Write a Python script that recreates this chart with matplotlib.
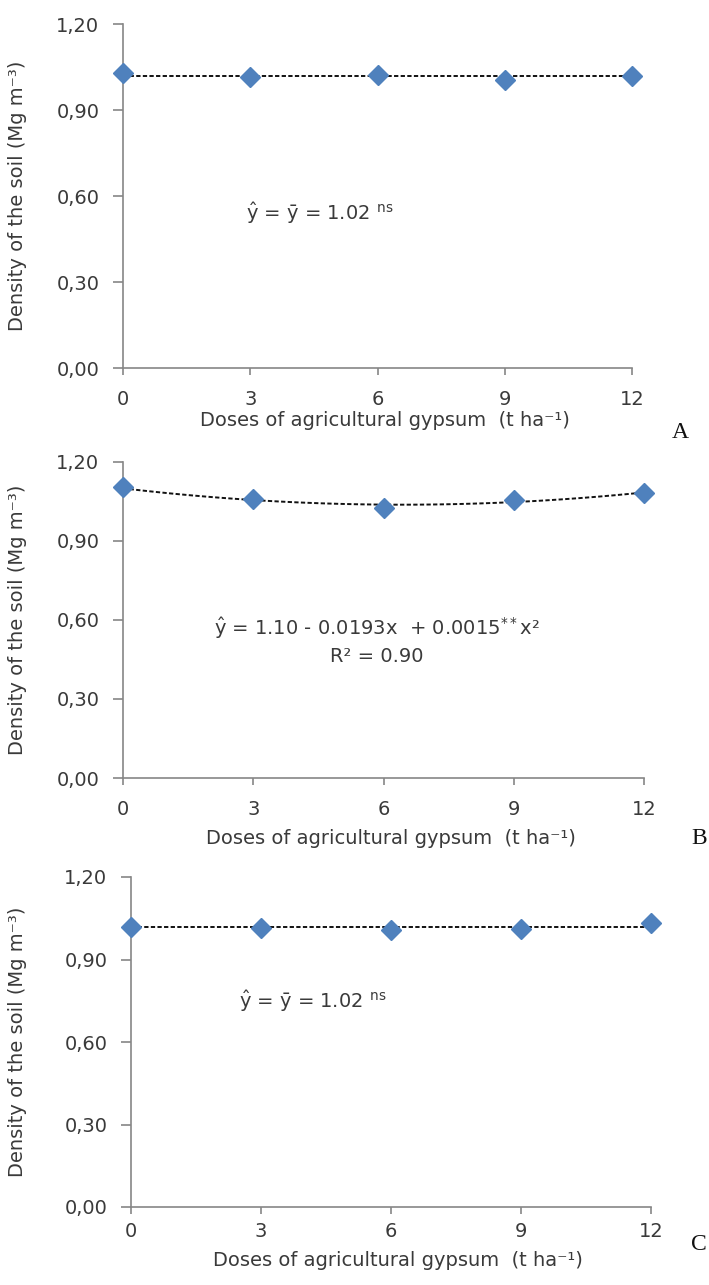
import numpy as np
import matplotlib
matplotlib.use('Agg')
from matplotlib import pyplot as plt

doses = [0, 3, 6, 9, 12]

dens_a = [1.030, 1.014, 1.022, 1.005, 1.019]
dens_b = [1.105, 1.060, 1.025, 1.057, 1.082]
dens_c = [1.020, 1.013, 1.007, 1.011, 1.034]

mean_a = 1.02
mean_c = 1.02
coef_b = [0.0015, -0.0193, 1.10]  # x^2, x, const

yticks = [0.0, 0.3, 0.6, 0.9, 1.2]
ytick_labels = ['0,00', '0,30', '0,60', '0,90', '1,20']

W, H = 709, 1285
plt.rcParams['font.family'] = ['DejaVu Sans']
fig = plt.figure(figsize=(W / 100, H / 100), dpi=100)


def px(x0, y0, x1, y1):
    return [x0 / W, 1 - y1 / H, (x1 - x0) / W, (y1 - y0) / H]


blue = '#4f81bd'
grey = '#868686'
txt = '#3a3a3a'

panels = [
    # axes box, points, letter, letter pos, xlabel y, x tick pad
    (px(123, 24, 632, 368), 'A', (680, 432), 421, 11),
    (px(123, 462, 644, 778), 'B', (699, 838), 838, 11),
    (px(131, 877, 651, 1207), 'C', (699, 1244), 1260, 6),
]

axes = []
for box, letter, lpos, xl_y, xpad in panels:
    ax = fig.add_axes(box)
    ax.set_xlim(0, 12)
    ax.set_ylim(0, 1.2)
    ax.set_xticks(doses)
    ax.set_yticks(yticks)
    ax.set_yticklabels(ytick_labels)
    for s in ['top', 'right']:
        ax.spines[s].set_visible(False)
    for s in ['left', 'bottom']:
        ax.spines[s].set_color(grey)
        ax.spines[s].set_linewidth(1.2)
    ax.tick_params(axis='y', direction='out', length=7, width=1.2, color=grey,
                   labelsize=14, labelcolor=txt, pad=10)
    ax.tick_params(axis='x', direction='out', length=5, width=1.2, color=grey,
                   labelsize=14, labelcolor=txt, pad=xpad)
    ax.set_ylabel('Density of the soil (Mg m⁻³)', fontsize=14, color=txt)
    ax.yaxis.set_label_coords(18 / W, box[1] + box[3] / 2, transform=fig.transFigure)
    ax.yaxis.label.set_va('center')
    ax.set_xlabel('Doses of agricultural gypsum  (t ha⁻¹)', fontsize=14, color=txt)
    ax.xaxis.set_label_coords(box[0] + box[2] / 2 + 0.01, 1 - xl_y / H, transform=fig.transFigure)
    ax.xaxis.label.set_va('center')
    fig.text(lpos[0] / W, 1 - lpos[1] / H, letter, fontsize=17, family='Liberation Serif',
             ha='center', va='center', color='#111111')
    axes.append(ax)

ax_a, ax_b, ax_c = axes
dash = (0, (2.2, 1.2))
ms = 10

ax_a.plot([0, 12], [mean_a, mean_a], color='#111111', lw=1.4, ls=dash, zorder=2)
ax_a.plot(doses, dens_a, 'D', color=blue, ms=ms, clip_on=False, zorder=3)
ax_a.text(4.64, 0.54, r'$\hat{\mathrm{y}}$ = $\bar{\mathrm{y}}$ = 1.02 $^{\mathrm{ns}}$',
          fontsize=14, color=txt, ha='center', va='center')

xs = np.linspace(0, 12, 100)
ax_b.plot(xs, np.polyval(coef_b, xs), color='#111111', lw=1.4, ls=dash, zorder=2)
ax_b.plot(doses, dens_b, 'D', color=blue, ms=ms, clip_on=False, zorder=3)
ax_b.text(5.85, 0.57, r'$\hat{\mathrm{y}}$ = 1.10 - 0.0193x  + 0.0015$^{**}$x²',
          fontsize=14, color=txt, ha='center', va='center')
ax_b.text(5.85, 0.46, 'R² = 0.90', fontsize=14, color=txt, ha='center', va='center')

ax_c.plot([0, 12], [mean_c, mean_c], color='#111111', lw=1.4, ls=dash, zorder=2)
ax_c.plot(doses, dens_c, 'D', color=blue, ms=ms, clip_on=False, zorder=3)
ax_c.text(4.2, 0.75, r'$\hat{\mathrm{y}}$ = $\bar{\mathrm{y}}$ = 1.02 $^{\mathrm{ns}}$',
          fontsize=14, color=txt, ha='center', va='center')

fig.savefig('out.png', dpi=100, facecolor='white')
